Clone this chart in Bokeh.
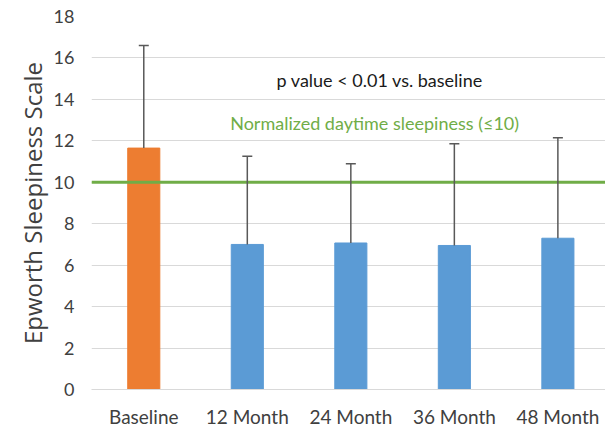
from bokeh.plotting import figure
from bokeh.models import ColumnDataSource, FixedTicker, Range1d, Whisker, Span, Label, TeeHead
from bokeh.embed import file_html
from bokeh.resources import INLINE

categories = ["Baseline", "12 Month", "24 Month", "36 Month", "48 Month"]
means = [11.65, 7.0, 7.07, 6.95, 7.3]
sd = [4.95, 4.26, 3.83, 4.91, 4.85]
colors = ["#ED7D31", "#5B9BD5", "#5B9BD5", "#5B9BD5", "#5B9BD5"]
y_ticks = [0, 2, 4, 6, 8, 10, 12, 14, 16, 18]
threshold = 10
annot_p = "p value < 0.01 vs. baseline"
annot_norm = "Normalized daytime sleepiness (\u226410)"

x = list(range(len(categories)))
upper = [m + s for m, s in zip(means, sd)]
src = ColumnDataSource(dict(x=x, top=means, upper=upper, color=colors))

FONT = "Lato"
p = figure(width=605, height=430, output_backend="svg", toolbar_location=None,
           x_range=Range1d(-0.505, 4.46), y_range=Range1d(0, 18),
           min_border_left=91, min_border_right=0, min_border_top=16, min_border_bottom=41)
p.outline_line_color = None

p.vbar(x="x", top="top", width=0.31, color="color", source=src)

w = Whisker(source=src, base="x", lower="top", upper="upper",
            line_color="#595959", line_width=1.5,
            upper_head=TeeHead(size=10, line_color="#595959", line_width=1.5),
            lower_head=None, level="overlay")
p.add_layout(w)

p.add_layout(Span(location=threshold, dimension="width", line_color="#70AD47", line_width=3))

p.add_layout(Label(x=2.28, y=14.95, text=annot_p, text_align="center", text_baseline="middle",
                   text_font=FONT, text_font_size="18px", text_color="#1a1a1a"))
p.add_layout(Label(x=2.23, y=12.88, text=annot_norm, text_align="center", text_baseline="middle",
                   text_font=FONT, text_font_size="18px", text_color="#70AD47"))

p.xaxis.ticker = FixedTicker(ticks=x)
p.xaxis.major_label_overrides = {i: c for i, c in zip(x, categories)}
p.xaxis.major_tick_line_color = None
p.xaxis.major_tick_out = 0
p.xaxis.minor_tick_line_color = None
p.xaxis.axis_line_color = "#d9d9d9"
p.xaxis.major_label_text_font = FONT
p.xaxis.major_label_text_font_size = "19px"
p.xaxis.major_label_text_color = "#404040"
p.xaxis.major_label_standoff = 15

p.yaxis.ticker = FixedTicker(ticks=y_ticks)
p.yaxis.axis_line_color = None
p.yaxis.major_tick_line_color = None
p.yaxis.major_tick_out = 0
p.yaxis.minor_tick_line_color = None
p.yaxis.major_label_text_font = FONT
p.yaxis.major_label_text_font_size = "18px"
p.yaxis.major_label_text_color = "#404040"
p.yaxis.major_label_standoff = 17
p.yaxis.axis_label = "Epworth Sleepiness Scale"
p.yaxis.axis_label_text_font = "Open Sans"
p.yaxis.axis_label_text_font_size = "24px"
p.yaxis.axis_label_text_font_style = "normal"
p.yaxis.axis_label_text_color = "#404040"
p.yaxis.axis_label_standoff = 2

p.xgrid.grid_line_color = None
p.ygrid.grid_line_color = "#d9d9d9"
p.ygrid.grid_line_width = 1
p.ygrid.ticker = FixedTicker(ticks=y_ticks)

open("out.html", "w").write(file_html(p, INLINE))
